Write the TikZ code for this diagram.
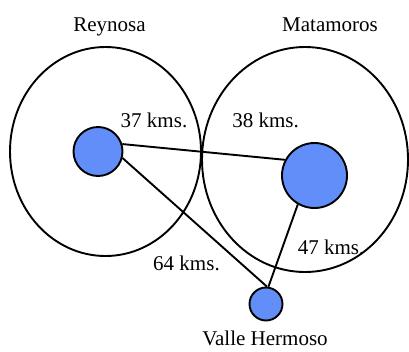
\documentclass[tikz,border=0pt]{standalone}
\usepackage{fontspec}
\setmainfont{Liberation Serif}
\usetikzlibrary{shapes.geometric}
\definecolor{cityblue}{RGB}{98,142,250}
\begin{document}
\begin{tikzpicture}[x=1pt,y=-1pt,
  ring/.style={draw, ellipse, line width=1.9pt, inner sep=0pt},
  city/.style={draw, circle, fill=cityblue, line width=1.9pt, inner sep=0pt},
  lbl/.style={font=\fontsize{21}{21}\selectfont, anchor=base, inner sep=0pt},
  link/.style={line width=1.9pt}]
\useasboundingbox (0,0) rectangle (409,351);
% labels
\node[lbl] (tr) at (109.5,31.7) {Reynosa};
\node[lbl] (tm) at (330,31.7) {Matamoros};
\node[lbl] (t37) at (154,127.7) {37 kms.};
\node[lbl] (t38) at (265.5,127.7) {38 kms.};
\node[lbl] (t47) at (331,254.3) {47 kms.};
\node[lbl] (t64) at (186.5,270.7) {64 kms.};
\node[lbl] (tv) at (265,345) {Valle Hermoso};
% areas
\node[ring, minimum width=191pt, minimum height=209pt] (rr) at (105.5,151.5) {};
\node[ring, minimum width=206pt, minimum height=225pt] (rm) at (305,159.5) {};
% cities
\node[city, minimum size=49pt] (cr) at (98,151.5) {};
\node[city, minimum size=65pt] (cm) at (314.5,175.5) {};
\node[city, minimum size=33pt] (cv) at (266,304) {};
% links
\draw[link] (cr.17) -- (cm.152);
\draw[link] (cr.-15) -- (cv.87);
\draw[link] (cm.-120) -- (cv.82);
\end{tikzpicture}
\end{document}
